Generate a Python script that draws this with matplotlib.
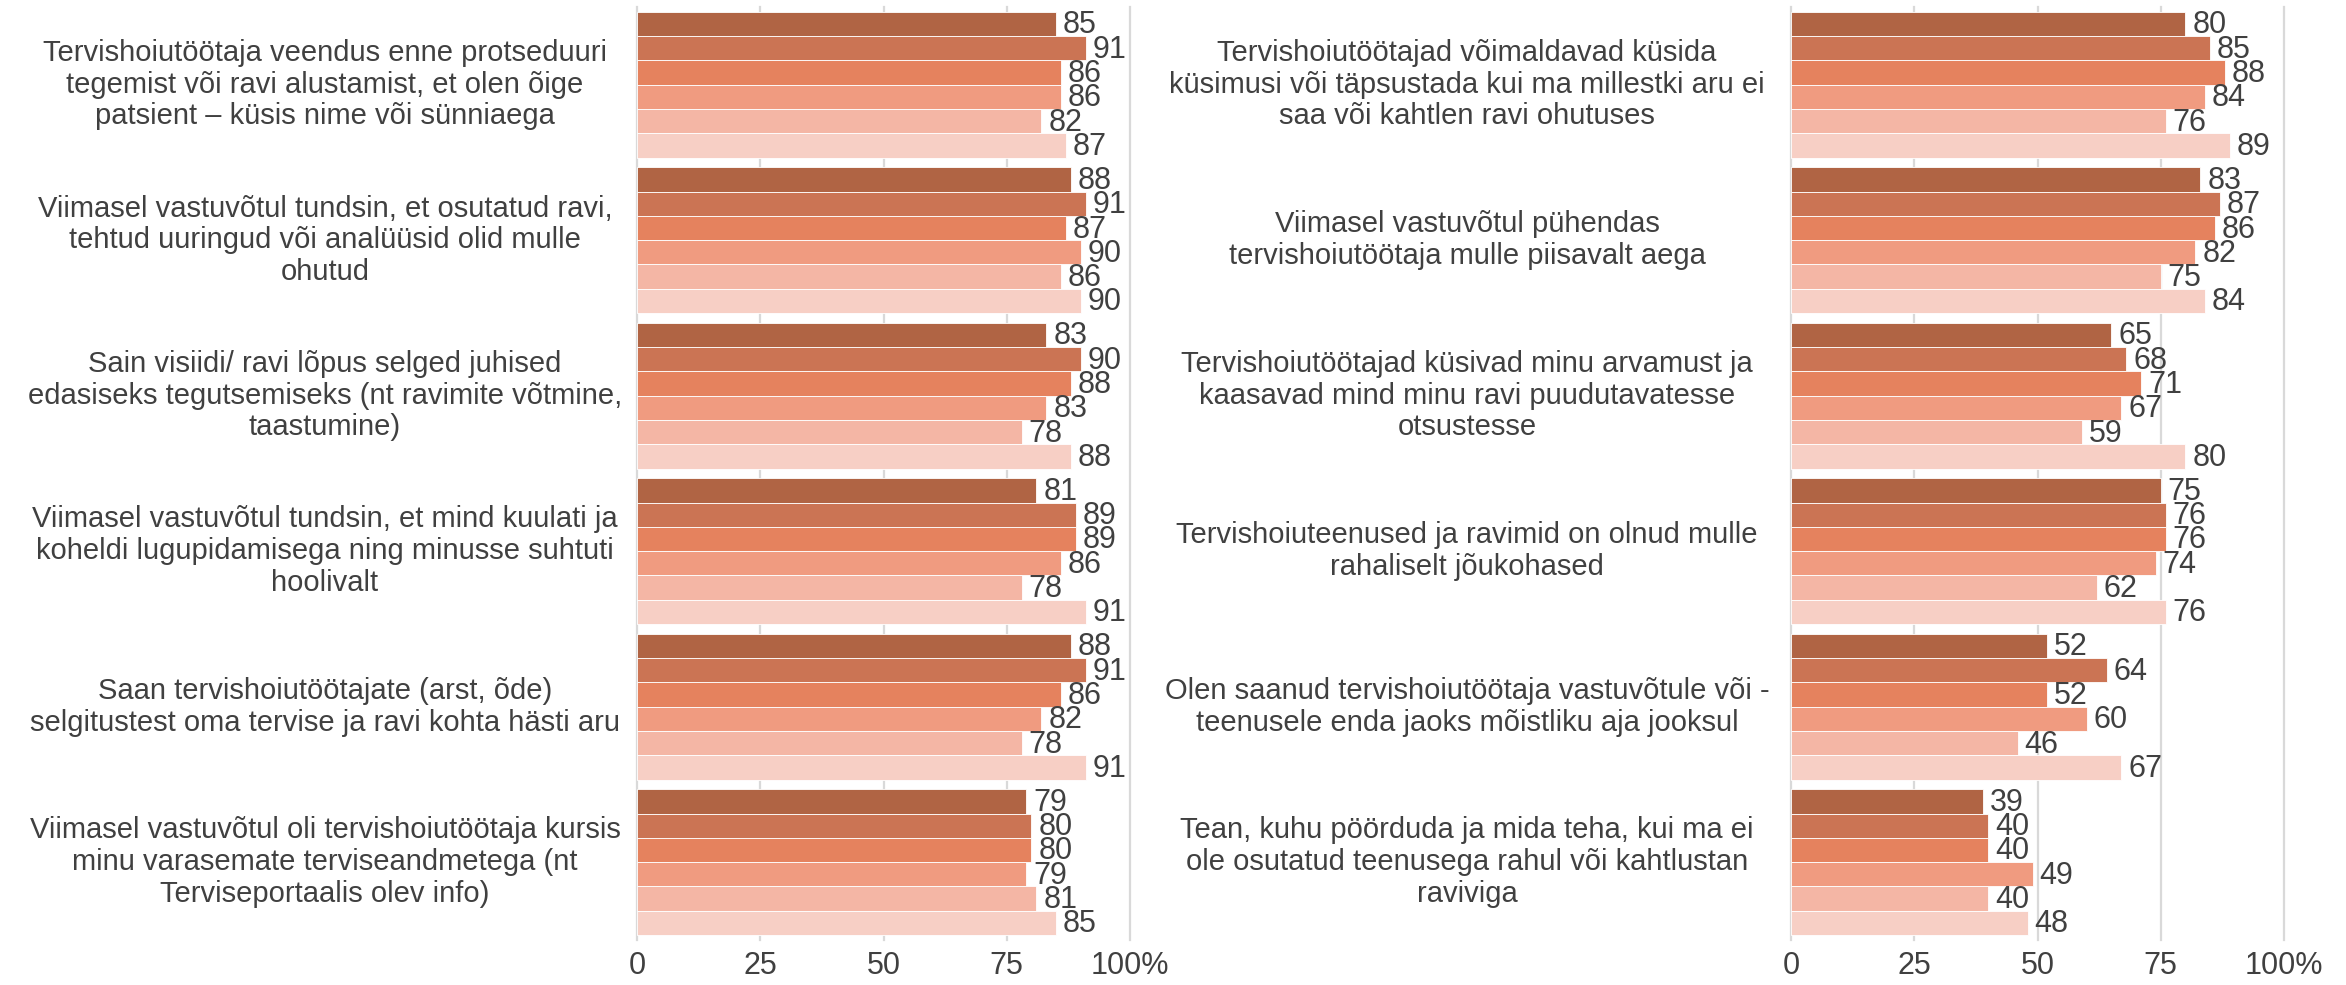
import matplotlib
matplotlib.use("Agg")
import matplotlib.pyplot as plt
import matplotlib.transforms as mtransforms

left_labels = [
    "Tervishoiutöötaja veendus enne protseduuri\ntegemist või ravi alustamist, et olen õige\npatsient – küsis nime või sünniaega",
    "Viimasel vastuvõtul tundsin, et osutatud ravi,\ntehtud uuringud või analüüsid olid mulle\nohutud",
    "Sain visiidi/ ravi lõpus selged juhised\nedasiseks tegutsemiseks (nt ravimite võtmine,\ntaastumine)",
    "Viimasel vastuvõtul tundsin, et mind kuulati ja\nkoheldi lugupidamisega ning minusse suhtuti\nhoolivalt",
    "Saan tervishoiutöötajate (arst, õde)\nselgitustest oma tervise ja ravi kohta hästi aru",
    "Viimasel vastuvõtul oli tervishoiutöötaja kursis\nminu varasemate terviseandmetega (nt\nTerviseportaalis olev info)",
]
left_values = [
    [85, 91, 86, 86, 82, 87],
    [88, 91, 87, 90, 86, 90],
    [83, 90, 88, 83, 78, 88],
    [81, 89, 89, 86, 78, 91],
    [88, 91, 86, 82, 78, 91],
    [79, 80, 80, 79, 81, 85],
]

right_labels = [
    "Tervishoiutöötajad võimaldavad küsida\nküsimusi või täpsustada kui ma millestki aru ei\nsaa või kahtlen ravi ohutuses",
    "Viimasel vastuvõtul pühendas\ntervishoiutöötaja mulle piisavalt aega",
    "Tervishoiutöötajad küsivad minu arvamust ja\nkaasavad mind minu ravi puudutavatesse\notsustesse",
    "Tervishoiuteenused ja ravimid on olnud mulle\nrahaliselt jõukohased",
    "Olen saanud tervishoiutöötaja vastuvõtule või -\nteenusele enda jaoks mõistliku aja jooksul",
    "Tean, kuhu pöörduda ja mida teha, kui ma ei\nole osutatud teenusega rahul või kahtlustan\nraviviga",
]
right_values = [
    [80, 85, 88, 84, 76, 89],
    [83, 87, 86, 82, 75, 84],
    [65, 68, 71, 67, 59, 80],
    [75, 76, 76, 74, 62, 76],
    [52, 64, 52, 60, 46, 67],
    [39, 40, 40, 49, 40, 48],
]

colors = ["#B06444", "#CB7454", "#E5825E", "#F09B80", "#F4B6A5", "#F7CFC5"]
ticks = [0, 25, 50, 75, 100]
tick_labels = ["0", "25", "50", "75", "100%"]

text_col = "#404040"
font = ["Liberation Sans", "DejaVu Sans"]

fig = plt.figure(figsize=(23.46, 9.85), dpi=100)

bar_h = 0.156


def panel(ax, labels, values, label_x):
    for g, vals in enumerate(values):
        for i, v in enumerate(vals):
            y = g + (i - 2.5) * bar_h
            ax.barh(y, v, height=bar_h, color=colors[i], edgecolor="white",
                    linewidth=0.6, zorder=3)
            ax.annotate(str(v), (v, y), xytext=(5, -1), textcoords="offset points",
                        ha="left", va="center", fontsize=22, color=text_col,
                        family=font, zorder=4)
    # category text centred in the free space left of each panel
    trans = mtransforms.blended_transform_factory(fig.transFigure, ax.transData)
    for g, lab in enumerate(labels):
        ax.text(label_x, g, lab, transform=trans, ha="center", va="center",
                fontsize=21, color=text_col, family=font, linespacing=1.17,
                multialignment="center")
    ax.set_xlim(0, 100)
    ax.set_ylim(len(labels) - 0.5, -0.5)
    ax.set_yticks([])
    ax.set_xticks(ticks)
    ax.set_xticklabels(tick_labels, fontsize=22, color=text_col, family=font)
    last = ax.get_xticklabels()[-1]
    last.set_transform(last.get_transform() +
                       mtransforms.ScaledTranslation(8 / 72, 0, fig.dpi_scale_trans))
    ax.tick_params(axis="x", length=0, pad=8)
    for s in ax.spines.values():
        s.set_visible(False)
    ax.grid(axis="x", color="#D9D9D9", linewidth=1.6, zorder=0)
    for gl in ax.get_xgridlines():
        gl.set_clip_on(False)
    ax.set_axisbelow(True)


ax1 = fig.add_axes([637 / 2346, 0.0457, 493 / 2346, 0.9472])
ax2 = fig.add_axes([1791 / 2346, 0.0457, 493 / 2346, 0.9472])
panel(ax1, left_labels, left_values, 325 / 2346)
panel(ax2, right_labels, right_values, 1467 / 2346)

fig.savefig("out.png", dpi=100, facecolor="white")
